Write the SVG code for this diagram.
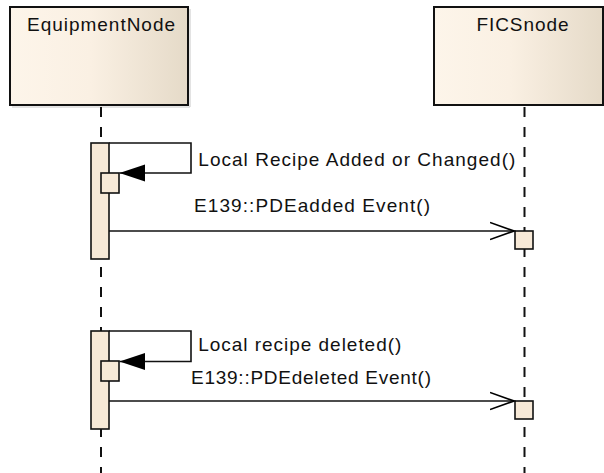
<svg xmlns="http://www.w3.org/2000/svg" width="604" height="473" viewBox="0 0 604 473">
  <defs>
    <linearGradient id="headFill" x1="0" y1="0" x2="1" y2="0">
      <stop offset="0" stop-color="#FDF5EA"/>
      <stop offset="0.45" stop-color="#FAF0E3"/>
      <stop offset="1" stop-color="#E5DAC8"/>
    </linearGradient>
    <marker id="openArrow" viewBox="0 0 26 20" refX="24" refY="10" markerWidth="26" markerHeight="20" markerUnits="userSpaceOnUse" orient="auto">
      <path d="M0,1.5 L24,10 L0,18.5" fill="none" stroke="#000" stroke-width="1.6"/>
    </marker>
    <marker id="solidArrow" viewBox="0 0 27 18" refX="26" refY="9" markerWidth="27" markerHeight="18" markerUnits="userSpaceOnUse" orient="auto">
      <path d="M0.5,0.5 L26,9 L0.5,17.5 Z" fill="#000"/>
    </marker>
  </defs>
  <style>
    .head { fill: url(#headFill); stroke: #111; stroke-width: 2; }
    .shadow { fill: none; stroke: #C8C8C8; stroke-width: 1; }
    .label { font-family: "Liberation Sans", Arial, sans-serif; font-size: 19px; fill: #111; }
    .lifeline { stroke: #111; stroke-width: 2; stroke-dasharray: 10 10; }
    .act { fill: #F7E9D7; stroke: #111; stroke-width: 1.6; }
    .msg { fill: none; stroke: #111; stroke-width: 1.6; }
  </style>

  <rect width="604" height="473" fill="#fff"/>

  <!-- lifelines -->
  <g id="equipmentNode">
    <path class="shadow" d="M190,9 V107 H12"/>
    <rect class="head" x="10" y="7" width="178" height="98"/>
    <text class="label" x="101" y="30.5" text-anchor="middle" textLength="148" lengthAdjust="spacing">EquipmentNode</text>
    <line class="lifeline" x1="101" y1="107" x2="101" y2="473"/>
  </g>
  <g id="ficsNode">
    <rect class="head" x="434" y="7" width="169" height="98"/>
    <text class="label" x="522.5" y="30.5" text-anchor="middle" textLength="92" lengthAdjust="spacing">FICSnode</text>
    <line class="lifeline" x1="524.5" y1="107" x2="524.5" y2="473"/>
  </g>

  <!-- activations -->
  <g id="equipmentActivation1">
    <rect class="act" x="91" y="143" width="18" height="116"/>
    <rect class="act" x="101" y="173" width="18" height="20"/>
  </g>
  <g id="ficsActivation1">
    <rect class="act" x="515" y="231" width="18" height="18"/>
  </g>
  <g id="equipmentActivation2">
    <rect class="act" x="91" y="331" width="18" height="98"/>
    <rect class="act" x="101" y="361" width="18" height="20"/>
  </g>
  <g id="ficsActivation2">
    <rect class="act" x="515" y="401" width="18" height="18"/>
  </g>

  <!-- messages -->
  <g id="connectors">
    <path class="msg" d="M109,143 H191 V173 H119.5" marker-end="url(#solidArrow)"/>
    <text class="label" x="198.3" y="166" textLength="317" lengthAdjust="spacing">Local Recipe Added or Changed()</text>

    <path class="msg" d="M109,231 H514" marker-end="url(#openArrow)"/>
    <text class="label" x="194" y="211.5" textLength="236" lengthAdjust="spacing">E139::PDEadded Event()</text>

    <path class="msg" d="M109,331 H191 V361.5 H119.5" marker-end="url(#solidArrow)"/>
    <text class="label" x="198.3" y="350.5" textLength="203" lengthAdjust="spacing">Local recipe deleted()</text>

    <path class="msg" d="M109,401 H514" marker-end="url(#openArrow)"/>
    <text class="label" x="191" y="384" textLength="240" lengthAdjust="spacing">E139::PDEdeleted Event()</text>
  </g>
</svg>
